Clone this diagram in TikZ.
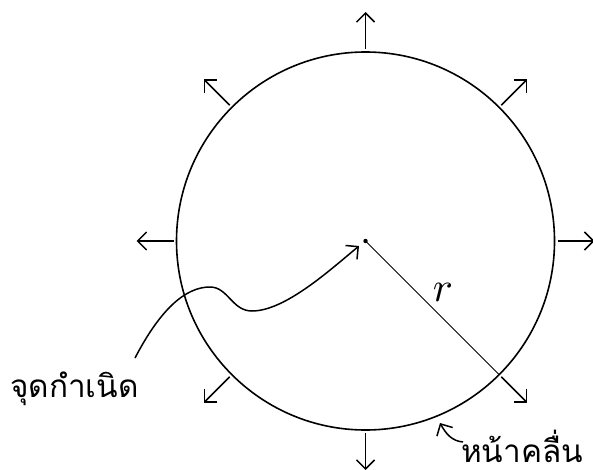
\documentclass[tikz,border=0pt]{standalone}
\usepackage{fontspec}
\newfontfamily\thaifont[Script=Thai]{Loma}
\usetikzlibrary{arrows.meta,calc}
\tikzset{
  wave/.style={line width=1.6pt},
  ray/.style={line width=1.5pt,-{Straight Barb[length=9pt,width=18pt,line width=1.5pt]}},
  thlabel/.style={font=\thaifont\fontsize{31.5}{34}\selectfont, inner sep=0pt},
}
\begin{document}
\begin{tikzpicture}[x=1pt,y=-1pt]
\useasboundingbox (0,0) rectangle (593,470);
\coordinate (O) at (365.5,241);
\draw[wave] (O) circle[radius=189];
\foreach \a in {0,45,90,135,180,225,270,315}{
  \draw[ray] ($(O)+({\a}:192)$) -- ($(O)+({\a}:229)$);
}
\fill (O) circle[radius=2.2];
\coordinate (R) at ($(O)+(45:189)$);
\draw[line width=0.8pt] (O) -- (R);
\node[scale=4.2, inner sep=0pt] (rl) at (443,292) {$r$};
\node[thlabel, anchor=base west] (src) at (10,397) {จุดกำเนิด};
\node[thlabel, anchor=base west] (wf) at (461,462) {หน้าคลื่น};
\coordinate (c0) at (135,358);
\coordinate (tip) at (359,246);
\draw[ray] (c0) .. controls (160,310) and (185,287) .. (210,287)
  .. controls (228,287) and (232,311) .. (252,311)
  .. controls (285,311) and (330,270) .. (tip);
\coordinate (wt) at (463,442);
\draw[ray] (wt) .. controls (452,441) and (446,434) .. (440,423);
\end{tikzpicture}
\end{document}
